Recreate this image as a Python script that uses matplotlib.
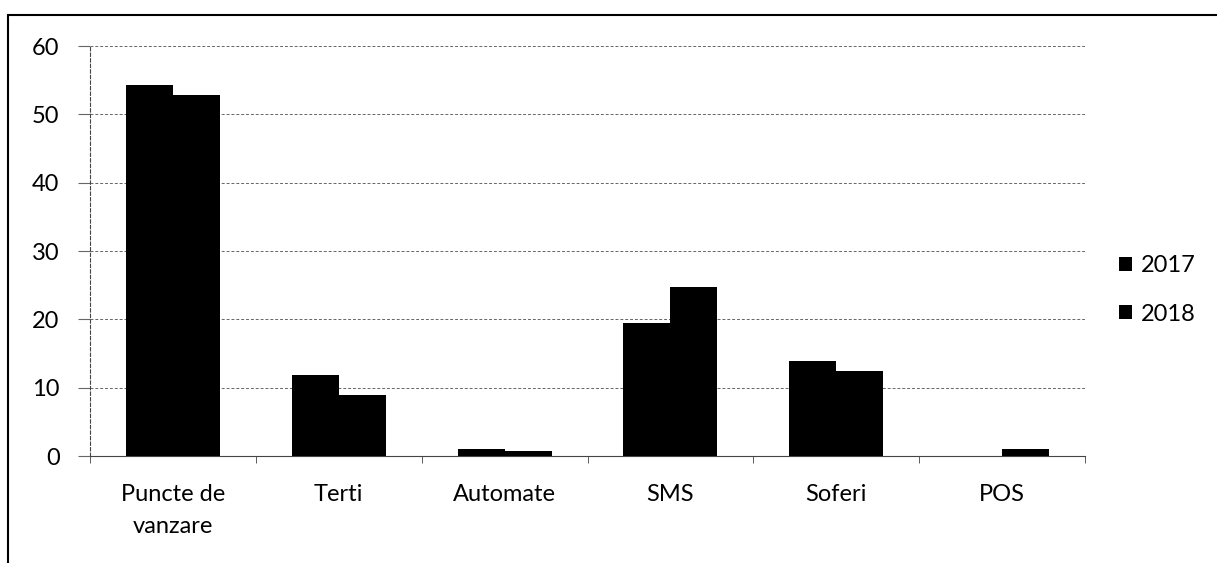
import numpy as np
import matplotlib
matplotlib.use('Agg')
import matplotlib.pyplot as plt
from matplotlib.patches import Rectangle

# Datos
categorias = ['Puncte de\nvanzare', 'Terti', 'Automate', 'SMS', 'Soferi', 'POS']
valori_2017 = [54.3, 11.9, 1.0, 19.5, 13.9, 0.0]
valori_2018 = [52.9, 8.9, 0.8, 24.7, 12.4, 1.0]
ani = ['2017', '2018']

plt.rcParams['font.family'] = ['Lato', 'DejaVu Sans']

fig = plt.figure(figsize=(12.17, 5.63), dpi=100)
ax = fig.add_axes([0.074, 0.190, 0.8175, 0.728])

x = np.arange(len(categorias))
w = 0.283
ax.bar(x - w / 2, valori_2017, w, color='black', label=ani[0], zorder=3)
ax.bar(x + w / 2, valori_2018, w, color='black', label=ani[1], zorder=3)

ax.set_xlim(-0.5, len(categorias) - 0.5)
ax.set_ylim(0, 60)
ax.set_yticks(range(0, 61, 10))
ax.yaxis.grid(True, color='#666666', linestyle=(0, (3, 2)), linewidth=0.7)
ax.set_axisbelow(True)

ax.set_xticks(x)
ax.set_xticklabels(categorias, fontsize=17, linespacing=1.65)
ax.tick_params(axis='x', length=0, pad=20)
ax.set_xticks(np.arange(-0.5, len(categorias)), minor=True)
ax.tick_params(axis='x', which='minor', length=5, color='#444444')
ax.tick_params(axis='y', labelsize=17, length=9, color='#666666', pad=13)

for s in ['top', 'right']:
    ax.spines[s].set_visible(False)
ax.spines['left'].set_linestyle((0, (3, 2)))
ax.spines['left'].set_color('#444444')
ax.spines['bottom'].set_color('#444444')
ax.spines['left'].set_linewidth(0.8)
ax.spines['bottom'].set_linewidth(0.8)

ax.legend(loc='center left', bbox_to_anchor=(1.025, 0.405), frameon=False,
          fontsize=17, handlelength=0.55, handleheight=0.55, handletextpad=0.35,
          labelspacing=1.15, borderaxespad=0)

# Marco exterior
fig.patches.append(Rectangle((8 / 1217, -0.1), 1.1, 1 - 15 / 563 + 0.1,
                             transform=fig.transFigure, fill=False,
                             edgecolor='black', linewidth=1.5))

fig.savefig('out.png', dpi=100)
